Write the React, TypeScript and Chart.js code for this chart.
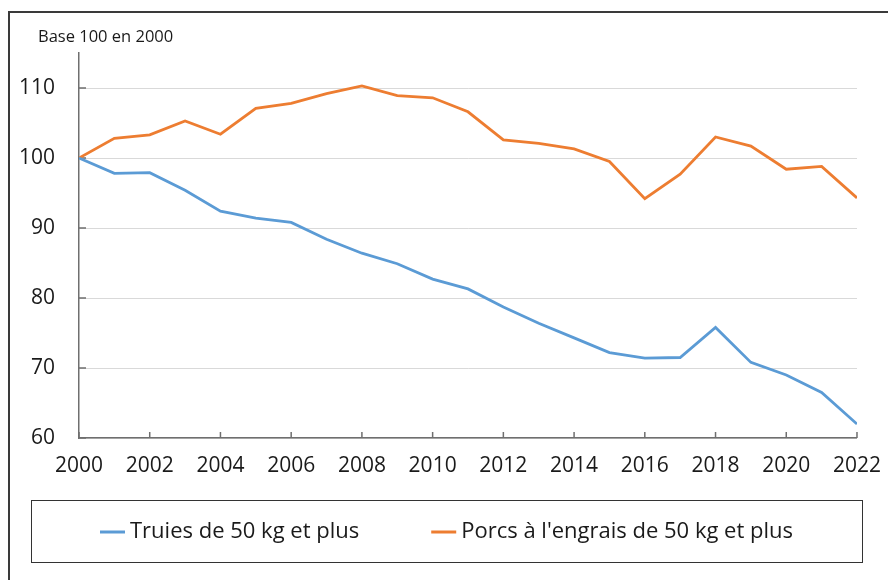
import React, { useEffect, useRef } from "react";
import { Chart, registerables } from "chart.js";

Chart.register(...registerables);

const years = [2000, 2001, 2002, 2003, 2004, 2005, 2006, 2007, 2008, 2009, 2010, 2011, 2012, 2013, 2014, 2015, 2016, 2017, 2018, 2019, 2020, 2021, 2022];
const truies = [100, 97.8, 97.9, 95.4, 92.4, 91.4, 90.8, 88.4, 86.4, 84.9, 82.7, 81.3, 78.7, 76.4, 74.3, 72.2, 71.4, 71.5, 75.8, 70.8, 69.0, 66.5, 62.0];
const porcs = [100, 102.8, 103.3, 105.3, 103.4, 107.1, 107.8, 109.2, 110.3, 108.9, 108.6, 106.6, 102.6, 102.1, 101.3, 99.5, 94.2, 97.7, 103.0, 101.7, 98.4, 98.8, 94.3];
const seriesLabels = ["Truies de 50 kg et plus", "Porcs à l'engrais de 50 kg et plus"];
const seriesColors = ["#5B9BD5", "#ED7D31"];
const yTitle = "Base 100 en 2000";
const yMin = 60;
const yMax = 115;
const yStep = 10;
const xStep = 2;

const FONT = "'Open Sans', 'DejaVu Sans', sans-serif";
const TEXT = "#1a1a1a";
const AXIS = "#6f6f6f";

const decorPlugin = {
  id: "decor",
  beforeDatasetsDraw(chart: any) {
    const ctx = chart.ctx;
    const xs = chart.scales.x;
    const ys = chart.scales.y;
    const area = chart.chartArea;
    ctx.save();
    ctx.strokeStyle = AXIS;
    ctx.lineWidth = 1.5;
    ctx.beginPath();
    ys.ticks.forEach((t: any) => {
      const y = ys.getPixelForValue(t.value);
      ctx.moveTo(area.left, y);
      ctx.lineTo(area.left + 7, y);
    });
    xs.ticks.forEach((t: any) => {
      const x = xs.getPixelForValue(t.value);
      ctx.moveTo(x, area.bottom);
      ctx.lineTo(x, area.bottom - 6);
    });
    ctx.stroke();
    ctx.restore();
  },
  afterDraw(chart: any) {
    const ctx = chart.ctx;
    ctx.save();
    // outer frame
    ctx.strokeStyle = "#3a3a3a";
    ctx.lineWidth = 2;
    ctx.strokeRect(1, 4, chart.width + 20, chart.height + 20);
    // axis title
    ctx.fillStyle = TEXT;
    ctx.font = `16.5px ${FONT}`;
    ctx.textBaseline = "middle";
    ctx.textAlign = "left";
    ctx.fillText(yTitle, 30, 29);
    // legend box
    const bx = 23, by = 492, bw = 831, bh = 62;
    ctx.strokeStyle = "#333333";
    ctx.lineWidth = 1;
    ctx.strokeRect(bx + 0.5, by + 0.5, bw, bh);
    ctx.font = `22px ${FONT}`;
    const lineW = 25, gap = 5, itemGap = 72;
    const items = chart.data.datasets.map((d: any) => ({
      label: d.label,
      color: d.borderColor,
      w: lineW + gap + ctx.measureText(d.label).width,
    }));
    const total = items.reduce((s: number, it: any) => s + it.w, 0) + itemGap * (items.length - 1);
    let x = bx + (bw - total) / 2;
    const cy = by + bh / 2 + 1;
    items.forEach((it: any) => {
      ctx.strokeStyle = it.color;
      ctx.lineWidth = 3;
      ctx.beginPath();
      ctx.moveTo(x, cy);
      ctx.lineTo(x + lineW, cy);
      ctx.stroke();
      ctx.fillStyle = TEXT;
      ctx.fillText(it.label, x + lineW + gap, cy);
      x += it.w + itemGap;
    });
    ctx.restore();
  },
};

export default function App() {
  const ref = useRef<HTMLCanvasElement>(null);
  useEffect(() => {
    if (!ref.current) return;
    const chart = new Chart(ref.current, {
      type: "line",
      data: {
        datasets: [
          {
            label: seriesLabels[0],
            data: years.map((y, i) => ({ x: y, y: truies[i] })),
            borderColor: seriesColors[0],
            backgroundColor: seriesColors[0],
            borderWidth: 2.8,
            pointRadius: 0,
            tension: 0,
          },
          {
            label: seriesLabels[1],
            data: years.map((y, i) => ({ x: y, y: porcs[i] })),
            borderColor: seriesColors[1],
            backgroundColor: seriesColors[1],
            borderWidth: 2.8,
            pointRadius: 0,
            tension: 0,
          },
        ],
      },
      options: {
        responsive: false,
        animation: false,
        layout: { padding: { left: 0, right: 34, top: 45, bottom: 102 } },
        plugins: {
          legend: { display: false },
          title: { display: false },
          tooltip: { enabled: false },
        },
        scales: {
          x: {
            type: "linear",
            min: years[0],
            max: years[years.length - 1],
            afterFit: (s: any) => { s.height = 40; },
            grid: { display: false, drawTicks: false },
            border: { display: true, color: AXIS, width: 1.5 },
            ticks: {
              stepSize: xStep,
              padding: 15,
              color: TEXT,
              font: { family: FONT, size: 21 },
              maxRotation: 0,
              autoSkip: false,
              callback: (v: any) => String(v),
            },
          },
          y: {
            min: yMin,
            max: yMax,
            afterFit: (s: any) => { s.width = 71; },
            grid: { color: "#d9d9d9", lineWidth: 1, drawTicks: false },
            border: { display: true, color: AXIS, width: 1.5 },
            ticks: {
              stepSize: yStep,
              includeBounds: false,
              padding: 24,
              color: TEXT,
              font: { family: FONT, size: 21 },
              callback: (v: any) => String(v),
            },
          },
        },
      },
      plugins: [decorPlugin],
    } as any);
    return () => chart.destroy();
  }, []);
  return <canvas ref={ref} width={888} height={572} style={{ display: "block" }} />;
}
